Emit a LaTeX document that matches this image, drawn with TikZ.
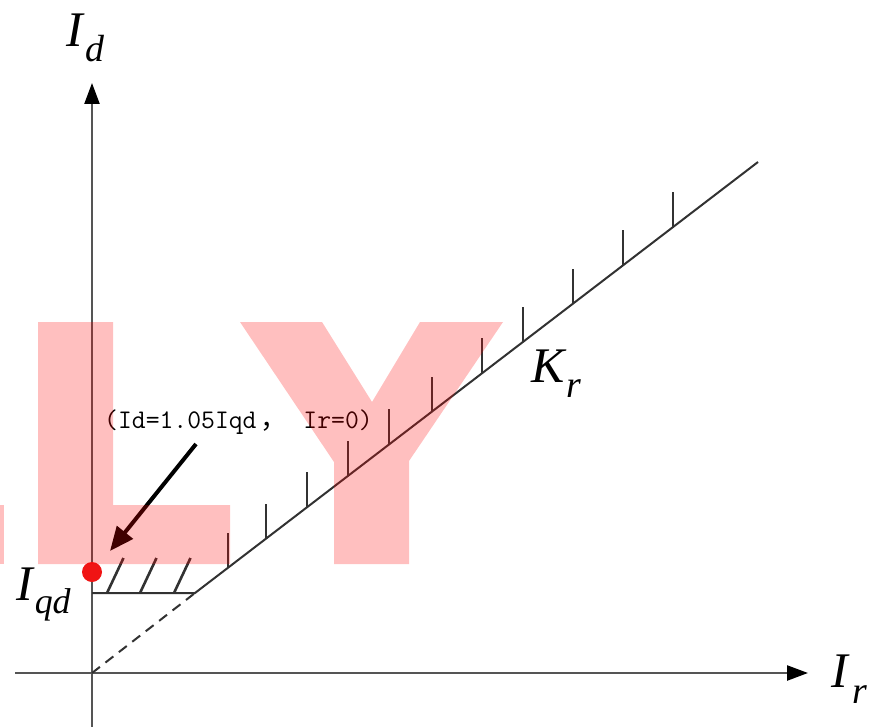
\documentclass[tikz,border=0pt]{standalone}
\usepackage{fontspec}
\setmainfont{Liberation Serif}
\newfontfamily\anncjk{Noto Sans CJK SC}
\usetikzlibrary{arrows.meta}
\definecolor{linegray}{RGB}{50,50,50}
\definecolor{axisgray}{RGB}{85,85,85}
\definecolor{dotred}{RGB}{240,20,20}
\tikzset{
  axisline/.style={draw=axisgray, line width=2.4bp, -{Triangle[length=21bp,width=15bp,black]}},
  curveline/.style={draw=linegray, line width=2bp},
  hatchline/.style={draw=linegray, line width=2.6bp},
  axlabel/.style={anchor=base west, inner sep=0pt, font=\fontsize{50}{50}\selectfont\itshape},
  anntext/.style={anchor=base west, inner sep=0pt, font=\ttfamily\fontsize{27}{27}\selectfont},
  watermark/.style={fill=red, fill opacity=0.25, draw=none}
}
\begin{document}
\begin{tikzpicture}[x=1bp, y=-1bp]
\useasboundingbox (0,0) rectangle (869,727);
% key points
\coordinate (O) at (92,673);
\coordinate (ybot) at (92,727);
\coordinate (ytip) at (92,83);
\coordinate (xleft) at (15,673);
\coordinate (xtip) at (808,673);
\coordinate (Q) at (92,593);
\coordinate (B) at (195,593);
\coordinate (E) at (758,162);
\coordinate (dot) at (92,572);
\coordinate (astart) at (196,444);
\coordinate (atip) at (110,551);
% axes
\draw[axisline] (ybot) -- (ytip);
\draw[axisline] (xleft) -- (xtip);
% characteristic
\draw[curveline, dash pattern=on 10bp off 7bp] (O) -- (B);
\draw[curveline] (Q) -- (B) -- (E);
% hatches on horizontal part
\foreach \hx in {107,140,174}
  \draw[hatchline] (\hx,593) -- ++(16.5,-35);
% ticks on sloped part
\foreach \tx in {228,266,307,348,389,432,482,523,573,623,673}
  \draw[hatchline] (\tx,{593-0.7655*(\tx-195)}) -- ++(0,-35);
% red point
\fill[dotred] (dot) circle (10bp);
% annotation arrow
\draw[line width=4bp, -{Triangle[length=24bp,width=20bp]}] (astart) -- (atip);
% labels
\node[axlabel] (Id) at (66,47) {I\kern3bp\raisebox{-15bp}{\fontsize{38}{38}\selectfont d}};
\node[axlabel] (Iqd) at (16,600) {I\kern2bp\raisebox{-13bp}{\fontsize{36}{36}\selectfont qd}};
\node[axlabel] (Kr) at (531,382) {K\kern2bp\raisebox{-15bp}{\fontsize{38}{38}\selectfont r}};
\node[axlabel] (Ir) at (831,687) {I\kern5bp\raisebox{-16bp}{\fontsize{38}{38}\selectfont r}};
\node[anntext] (ann) at (104,428) {(Id=1.05Iqd\hspace{4bp}{\anncjk ，}\hspace{16bp}Ir=0)};
% watermark
\path[watermark] (38,322) -- (113,322) -- (113,505) -- (230,505) -- (230,564) -- (38,564) -- cycle;
\path[watermark] (240,322) -- (322,322) -- (372,402) -- (420,322) -- (503,322) -- (409,461) -- (409,564) -- (334,564) -- (334,462) -- cycle;
\path[watermark] (0,505) rectangle (4,564);
\end{tikzpicture}
\end{document}
